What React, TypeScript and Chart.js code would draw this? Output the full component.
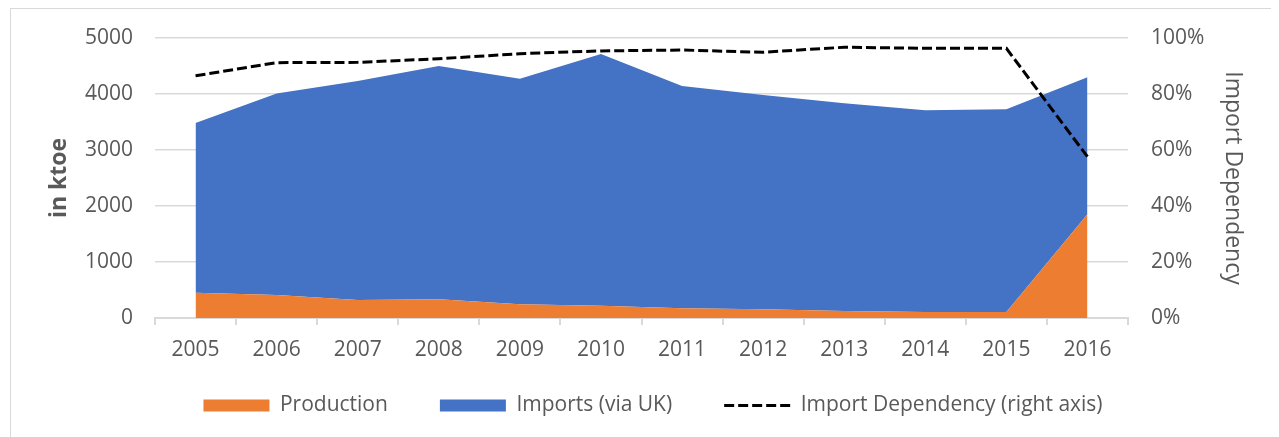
import React, { useEffect, useRef } from 'react';
import { Chart, registerables } from 'chart.js';

Chart.register(...registerables);

const years = ['2005', '2006', '2007', '2008', '2009', '2010', '2011', '2012', '2013', '2014', '2015', '2016'];
const production = [450, 410, 320, 333, 244, 220, 173, 155, 125, 107, 107, 1851];
const importsViaUK = [3030, 3600, 3910, 4167, 4030, 4494, 3970, 3827, 3708, 3601, 3619, 2447];
const importDependency = [0.865, 0.912, 0.913, 0.926, 0.944, 0.954, 0.957, 0.949, 0.967, 0.963, 0.963, 0.576];
const seriesLabels = ['Production', 'Imports (via UK)', 'Import Dependency (right axis)'];
const leftAxisTitle = 'in ktoe';
const rightAxisTitle = 'Import Dependency';

const FONT = "'Open Sans', sans-serif";
const GREY = '#595959';
const GRID = '#d9d9d9';
const ORANGE = '#ED7D31';
const BLUE = '#4472C4';
const DASH = [10, 4];

const legendLift = {
  id: 'legendLift',
  afterLayout(chart: any) {
    const lg = chart.legend;
    if (lg) {
      lg.top -= 25;
      lg.bottom -= 25;
    }
  },
};

export default function App() {
  const ref = useRef<HTMLCanvasElement | null>(null);

  useEffect(() => {
    if (!ref.current) return;
    const chart = new Chart(ref.current, {
      type: 'line',
      data: {
        labels: years,
        datasets: [
          {
            label: seriesLabels[0],
            data: production,
            backgroundColor: ORANGE,
            borderColor: ORANGE,
            borderWidth: 0,
            pointRadius: 0,
            fill: 'origin',
            yAxisID: 'y',
            tension: 0,
          },
          {
            label: seriesLabels[1],
            data: importsViaUK,
            backgroundColor: BLUE,
            borderColor: BLUE,
            borderWidth: 0,
            pointRadius: 0,
            fill: '-1',
            yAxisID: 'y',
            tension: 0,
          },
          {
            label: seriesLabels[2],
            data: importDependency,
            borderColor: '#000000',
            backgroundColor: '#000000',
            borderWidth: 3,
            borderDash: DASH,
            pointRadius: 0,
            fill: false,
            yAxisID: 'y1',
            tension: 0,
            order: -1,
          },
        ] as any,
      },
      plugins: [legendLift],
      options: {
        animation: false,
        responsive: false,
        maintainAspectRatio: false,
        layout: { padding: { left: 18, right: 0, top: 29, bottom: 0 } },
        plugins: {
          tooltip: { enabled: false },
          legend: {
            position: 'bottom',
            labels: {
              usePointStyle: true,
              pointStyleWidth: 66,
              boxHeight: 12,
              padding: 52,
              color: GREY,
              font: { family: FONT, size: 21 },
              generateLabels: (c: any) =>
                c.data.datasets.map((ds: any, i: number) => ({
                  text: ds.label,
                  datasetIndex: i,
                  fillStyle: i === 2 ? 'rgba(0,0,0,0)' : ds.backgroundColor,
                  strokeStyle: '#000000',
                  lineWidth: i === 2 ? 3 : 0,
                  lineDash: i === 2 ? DASH : [],
                  lineCap: 'butt',
                  pointStyle: i === 2 ? 'line' : 'rect',
                  fontColor: GREY,
                  hidden: false,
                })),
            },
          },
        },
        scales: {
          x: {
            offset: true,
            afterFit: (s: any) => {
              s.height = 50;
            },
            grid: {
              offset: true,
              drawOnChartArea: false,
              drawTicks: true,
              tickLength: 7,
              color: GRID,
              lineWidth: 2,
            },
            border: { display: true, color: GRID, width: 2 },
            ticks: {
              color: GREY,
              padding: 12,
              maxRotation: 0,
              autoSkip: false,
              font: { family: FONT, size: 21 },
            },
          },
          y: {
            position: 'left',
            stacked: true,
            min: 0,
            max: 5000,
            afterFit: (s: any) => {
              s.width = 126;
              s.paddingTop = 12;
              s.paddingBottom = 12;
            },
            grid: { drawTicks: false, color: GRID, lineWidth: 1.5 },
            border: { display: false },
            ticks: {
              stepSize: 1000,
              color: GREY,
              padding: 22,
              font: { family: FONT, size: 21 },
              callback: (v: any) => String(v),
            },
            title: {
              display: true,
              text: leftAxisTitle,
              color: GREY,
              padding: { top: 17, bottom: 0 },
              font: { family: FONT, size: 23, weight: 'bold' },
            },
          },
          y1: {
            position: 'right',
            stacked: false,
            min: 0,
            max: 1,
            afterFit: (s: any) => {
              s.width = 149;
              s.paddingTop = 12;
              s.paddingBottom = 12;
            },
            grid: { display: false, drawOnChartArea: false, drawTicks: false },
            border: { display: false },
            ticks: {
              stepSize: 0.2,
              color: GREY,
              padding: 23,
              font: { family: FONT, size: 21 },
              callback: (v: any) => `${Math.round(Number(v) * 100)}%`,
            },
            title: {
              display: true,
              text: rightAxisTitle,
              color: GREY,
              padding: { top: 31, bottom: 0 },
              font: { family: FONT, size: 23 },
            },
          },
        },
      } as any,
    });
    return () => chart.destroy();
  }, []);

  return (
    <div
      style={{
        position: 'relative',
        marginLeft: 2,
        width: 1268,
        height: 430,
        border: `1px solid ${GRID}`,
        boxSizing: 'border-box',
        background: '#ffffff',
        overflow: 'hidden',
      }}
    >
      <canvas ref={ref} width={1266} height={442} style={{ display: 'block', width: 1266, height: 442 }} />
    </div>
  );
}
